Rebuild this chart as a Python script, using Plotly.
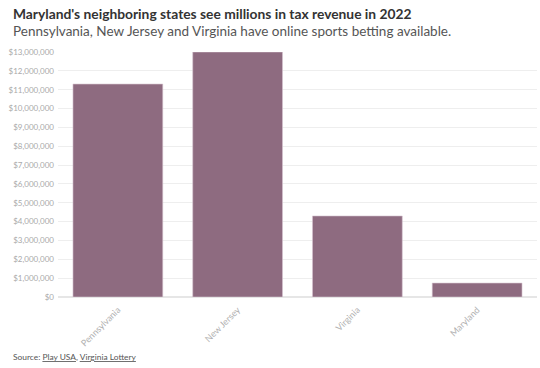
import plotly.graph_objects as go

states = ["Pennsylvania", "New Jersey", "Virginia", "Maryland"]
revenue = [11300000, 13000000, 4300000, 740000]
tick_vals = list(range(0, 14000000, 1000000))
tick_text = ["$" + format(v, ",") for v in tick_vals]

fig = go.Figure(go.Bar(
    x=states, y=revenue,
    marker=dict(color="#8e6b80", line=dict(color="#d9c6d1", width=0.6)),
    hoverinfo="skip",
))

W, H = 540, 368
L, R, T, B = 58, 3, 52, 71

fig.update_layout(
    width=W, height=H,
    margin=dict(l=L, r=R, t=T, b=B),
    paper_bgcolor="white", plot_bgcolor="white",
    font=dict(family="Lato", color="#333"),
    bargap=0.25,
    showlegend=False,
    xaxis=dict(tickangle=-45, tickfont=dict(size=9, color="#b0b0b0"),
               showgrid=False, showline=False, ticks="",
               ticklabelstandoff=5),
    yaxis=dict(range=[0, 13000000], tickvals=tick_vals, ticktext=tick_text,
               tickfont=dict(size=8, color="#aaaaaa"), showgrid=True,
               gridcolor="#eeeeee", gridwidth=1, zeroline=True,
               zerolinecolor="#e6e6e6", ticks="", ticklen=0,
               ticklabelstandoff=3),
)

def px_ann(text, x, y, size, color):
    fig.add_annotation(text=text, x=(x - L) / (W - L - R), y=(H - y - B) / (H - T - B),
                       xref="paper", yref="paper", showarrow=False,
                       xanchor="left", yanchor="middle", font=dict(size=size, color=color))

px_ann("<b>Maryland's neighboring states see millions in tax revenue in 2022</b>", 11, 13, 13.8, "#333")
px_ann("Pennsylvania, New Jersey and Virginia have online sports betting available.", 11, 31, 13.5, "#555")
px_ann("Source: <u>Play USA</u>, <u>Virginia Lottery</u>", 11, 357, 8.4, "#555")

fig.write_html("out.html", config={"displayModeBar": False})
with open("out.html", encoding="utf-8") as f:
    html = f.read()
html = html.replace("<body>", "<body style=\"margin:0;padding:0;\">", 1)
with open("out.html", "w", encoding="utf-8") as f:
    f.write(html)
